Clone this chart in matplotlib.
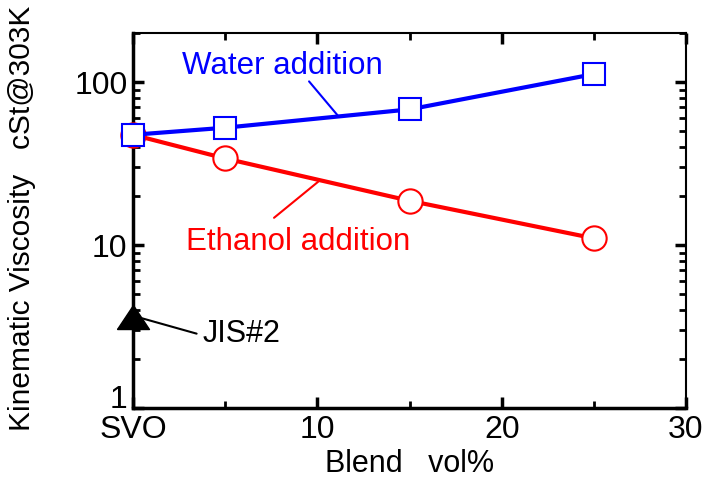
import matplotlib
matplotlib.use("Agg")
import matplotlib.pyplot as plt
from matplotlib.ticker import LogLocator, NullFormatter, FixedLocator

plt.rcParams['font.family'] = ['Liberation Sans', 'DejaVu Sans']

blend = [0, 5, 15, 25]
water = [47.5, 52.5, 68, 112]
ethanol = [47.5, 34, 18.7, 11]
jis_x = [0]
jis_y = [3.6]
x_ticks = [0, 10, 20, 30]
x_ticklabels = ['SVO', '10', '20', '30']
y_ticks = [1, 10, 100]
y_ticklabels = ['1', '10', '100']

fig = plt.figure(figsize=(7.09, 4.79), dpi=100)
ax = fig.add_axes([0.1876, 0.1482, 0.78, 0.7828])

ax.plot(blend, ethanol, color='red', lw=3, marker='o', ms=17.5,
        mfc='white', mec='red', mew=1.5, zorder=3, clip_on=False)
ax.plot(blend, water, color='blue', lw=3, marker='s', ms=16.5,
        mfc='white', mec='blue', mew=1.5, zorder=4, clip_on=False)
tri = [(-1.33, -1), (1.33, -1), (0, 1), (-1.33, -1)]
ax.plot(jis_x, jis_y, marker=tri, color='black', ms=23, ls='none',
        zorder=5, clip_on=False)

ax.set_yscale('log')
ax.set_xlim(0, 30)
ax.set_ylim(1, 200)

ax.xaxis.set_major_locator(FixedLocator(x_ticks))
ax.set_xticklabels(x_ticklabels)
ax.xaxis.set_minor_locator(FixedLocator([5, 15, 25]))
ax.yaxis.set_major_locator(FixedLocator(y_ticks))
ax.set_yticklabels(y_ticklabels)
ax.yaxis.set_minor_locator(LogLocator(base=10, subs=range(2, 10)))
ax.yaxis.set_minor_formatter(NullFormatter())

ax.tick_params(which='both', direction='in', top=True, right=True,
               labelsize=23, colors='black')
ax.tick_params(which='major', length=8, width=2.5, pad=5)
ax.tick_params(which='minor', length=5, width=2)
ax.tick_params(axis='y', which='major', pad=4)
ax.get_yticklabels()[0].set_va('baseline')

for s in ['left', 'bottom']:
    ax.spines[s].set_linewidth(2.5)
for s in ['top', 'right']:
    ax.spines[s].set_linewidth(1.5)

ax.set_xlabel('Blend   vol%', fontsize=22)
ax.xaxis.set_label_coords(0.5, -0.11)
ax.set_ylabel('Kinematic Viscosity   cSt@303K', fontsize=21.5)
ax.yaxis.set_label_coords(-0.175, 0.505)

# leader lines
ax.annotate('', xy=(11.1, 62.5), xytext=(9.55, 101),
            arrowprops=dict(arrowstyle='-', color='blue', lw=1.5,
                            shrinkA=0, shrinkB=0))
ax.annotate('', xy=(10.05, 24.5), xytext=(7.65, 14.7),
            arrowprops=dict(arrowstyle='-', color='red', lw=1.5,
                            shrinkA=0, shrinkB=0))
ax.annotate('', xy=(0.5, 3.55), xytext=(3.45, 2.86),
            arrowprops=dict(arrowstyle='-', color='black', lw=1.5,
                            shrinkA=0, shrinkB=0))

ax.text(8.1, 126, 'Water addition', fontsize=22.5, color='blue',
        ha='center', va='center')
ax.text(8.95, 10.4, 'Ethanol addition', fontsize=22.5, color='red',
        ha='center', va='center')
ax.text(3.75, 2.86, 'JIS#2', fontsize=22, color='black',
        ha='left', va='center')

fig.savefig('out.png', dpi=100)
